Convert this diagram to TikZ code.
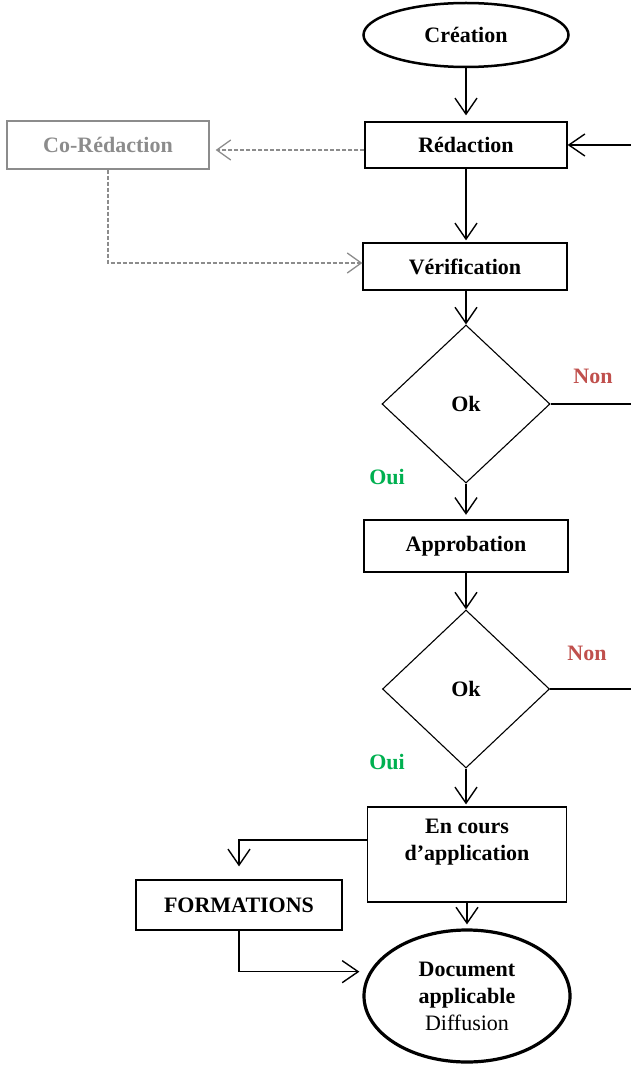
\documentclass[tikz,border=0pt]{standalone}
\usepackage{fontspec}
\setmainfont{Liberation Serif}
\usetikzlibrary{shapes.geometric,arrows.meta}
\definecolor{nonred}{HTML}{C0504D}
\definecolor{ouigreen}{HTML}{00B050}
\definecolor{cogray}{HTML}{8C8C8C}
\begin{document}
\begin{tikzpicture}[x=1pt,y=-1pt,
  txt/.style={font=\fontsize{22}{27}\selectfont\bfseries, align=center},
  stepbox/.style={txt, draw, rectangle, line width=1.3pt, inner sep=0pt},
  oval/.style={txt, draw, ellipse, inner sep=0pt},
  decision/.style={txt, draw, diamond, line width=1.1pt, inner sep=0pt},
  flow/.style={line width=1.4pt, -{Straight Barb[length=16pt,width=22pt,line width=1.4pt]}},
  plain/.style={line width=1.3pt},
  coflow/.style={draw=cogray, line width=1.3pt, dash pattern=on 4pt off 2pt,
    -{Straight Barb[length=14pt,width=20pt,line width=1.3pt]}},
  non/.style={txt, text=nonred},
  oui/.style={txt, text=ouigreen}
]
\useasboundingbox (0,0) rectangle (631,1067);

% process steps, main column at x = 466
\node[oval, line width=2.5pt, minimum width=205pt, minimum height=64pt] (crea) at (466,35) {Création};
\node[stepbox, minimum width=202pt, minimum height=46pt] (red) at (466,145) {Rédaction};
\node[stepbox, draw=cogray, text=cogray, minimum width=202pt, minimum height=48pt] (cored) at (108,145) {Co-Rédaction};
\node[stepbox, minimum width=204pt, minimum height=47pt] (verif) at (465,266.5) {Vérification};
\node[decision, minimum width=168pt, minimum height=158pt] (ok1) at (466,404) {Ok};
\node[stepbox, line width=2.4pt, minimum width=204pt, minimum height=52pt] (appro) at (466,546) {Approbation};
\node[decision, minimum width=167pt, minimum height=158pt] (ok2) at (466,689) {Ok};
\node[stepbox, minimum width=199pt, minimum height=95pt] (encours) at (467,854.5) {};
\node[txt] (encourstxt) at (467,842) {En cours\\d’application};
\node[stepbox, minimum width=206pt, minimum height=50pt] (form) at (239,905) {FORMATIONS};
\node[oval, line width=3.2pt, minimum width=206pt, minimum height=132pt] (doc) at (467,996)
  {Document\\applicable\\{\mdseries Diffusion}};

% loose ends at the right margin
\coordinate (rin) at (631,145);
\coordinate (non1end) at (631,404);
\coordinate (non2end) at (631,689);

% main flow
\draw[flow, shorten >=6pt] (crea.south) -- (red.north);
\draw[flow] (rin) -- (red.east);
\draw[flow, shorten >=2pt] (red.south) -- (red.south |- verif.north);
\draw[flow] (ok1.north |- verif.south) -- (ok1.north);
\draw[plain] (ok1.east) -- (non1end);
\draw[flow, shorten >=4pt] (ok1.south) -- (appro.north);
\draw[flow] (appro.south) -- (ok2.north);
\draw[plain] (ok2.east) -- (non2end);
\draw[flow, shorten >=2pt] (ok2.south) -- (ok2.south |- encours.north);
\draw[flow, shorten >=4pt] (encours.south) -- (doc.north);

% co-writing branch
\draw[coflow, shorten >=6pt] ([yshift=-5pt]red.west) -- ([yshift=-5pt]cored.east);
\draw[coflow] (cored.south) |- ([yshift=3.5pt]verif.west);

% training branch
\draw[flow, shorten >=13pt] ([yshift=14.5pt]encours.west) -| (form.north);
\draw[flow, shorten >=10pt] (form.south) |- (doc.166);

% decision labels
\node[non] (non1) at (593,376) {Non};
\node[oui] (oui1) at (387,477) {Oui};
\node[non] (non2) at (587,653) {Non};
\node[oui] (oui2) at (387,762) {Oui};
\end{tikzpicture}
\end{document}
